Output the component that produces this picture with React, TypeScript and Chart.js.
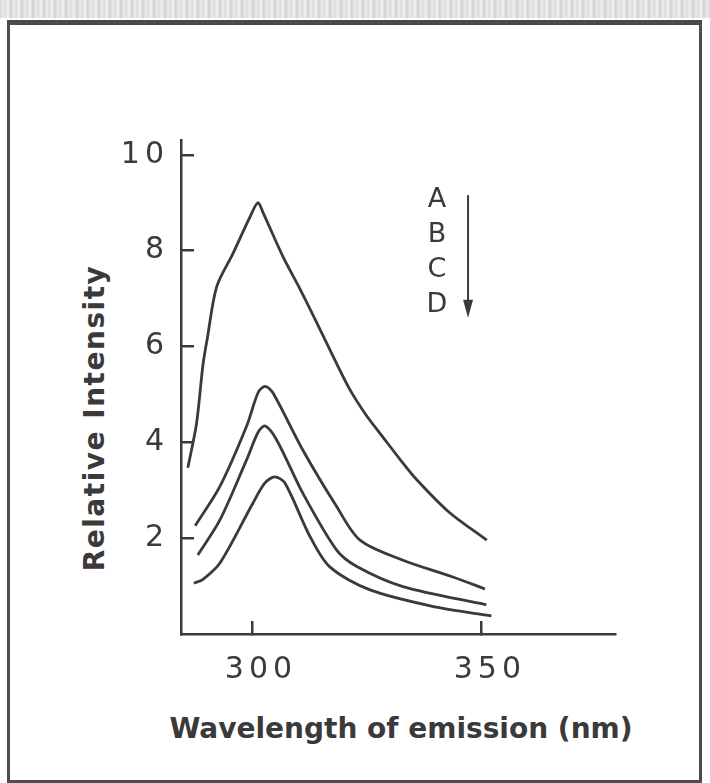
import React, { useEffect, useRef } from "react";
import { Chart, registerables } from "chart.js";

Chart.register(...registerables);

// Wavelength (nm) / relative intensity
const aX = [286.0, 287.9, 289.3, 290.3, 292.3, 295.9, 299.6, 301.3, 302.4, 306.8, 310.5, 314.2, 317.7, 321.4, 325.0, 328.6, 332.3, 336.0, 343.2, 351.3];
const aY = [3.47, 4.40, 5.62, 6.2, 7.25, 7.95, 8.71, 9.0, 8.8, 7.87, 7.2, 6.49, 5.8, 5.1, 4.56, 4.11, 3.65, 3.22, 2.53, 1.96];

const bX = [287.6, 293.0, 298.8, 301.4, 302.9, 304.6, 311.1, 318.5, 323.6, 333.0, 343.9, 350.9];
const bY = [2.26, 3.08, 4.33, 5.05, 5.17, 5.03, 3.84, 2.66, 1.96, 1.54, 1.19, 0.94];

const cX = [288.2, 293.0, 298.8, 301.4, 302.9, 305.4, 311.1, 318.5, 322.9, 333.0, 351.2];
const cY = [1.65, 2.38, 3.63, 4.22, 4.34, 4.05, 2.94, 1.75, 1.41, 0.99, 0.61];

const dX = [287.3, 289.3, 293.0, 300.2, 302.8, 305.0, 307.2, 312.7, 317.0, 325.8, 340.3, 352.3];
const dY = [1.06, 1.14, 1.48, 2.73, 3.15, 3.28, 3.15, 2.03, 1.40, 0.92, 0.56, 0.38];

const xTicks = [300, 350];
const yTicks = [2, 4, 6, 8, 10];
const seriesLabels = ["A", "B", "C", "D"];

const INK = "#3a3a3a";
const TICK_FONT = { family: "DejaVu Sans", size: 30, weight: "normal" as const };

const toPts = (xs: number[], ys: number[]) => xs.map((x, i) => ({ x, y: ys[i] }));

const labelSpacingPlugin = {
  id: "labelSpacing",
  beforeDraw(chart: any) {
    const ctx = chart.ctx;
    Object.values(chart.scales).forEach((scale: any) => {
      if (scale.__spaced) return;
      scale.__spaced = true;
      const orig = scale.drawLabels.bind(scale);
      scale.drawLabels = (ca: any) => {
        ctx.save();
        try {
          (ctx as any).letterSpacing = "5px";
        } catch (e) {}
        orig(ca);
        ctx.restore();
      };
    });
  },
};

const annotationPlugin = {
  id: "seriesOrder",
  afterDatasetsDraw(chart: any) {
    const { ctx, scales } = chart;
    const xs = scales.x;
    const ys = scales.y;
    ctx.save();
    ctx.fillStyle = INK;
    ctx.strokeStyle = INK;
    ctx.font = '27px "DejaVu Sans"';
    ctx.textAlign = "center";
    ctx.textBaseline = "middle";
    const lx = xs.getPixelForValue(340.4);
    const lv = [9.06, 8.33, 7.6, 6.87];
    seriesLabels.forEach((t, i) => ctx.fillText(t, lx, ys.getPixelForValue(lv[i])));
    const ax = xs.getPixelForValue(347.2);
    const top = ys.getPixelForValue(9.16);
    const bot = ys.getPixelForValue(6.6);
    ctx.lineWidth = 2;
    ctx.beginPath();
    ctx.moveTo(ax, top);
    ctx.lineTo(ax, bot - 14);
    ctx.stroke();
    ctx.beginPath();
    ctx.moveTo(ax - 5, bot - 18);
    ctx.lineTo(ax + 5, bot - 18);
    ctx.lineTo(ax, bot);
    ctx.closePath();
    ctx.fill();
    ctx.restore();
  },
};

export default function App() {
  const ref = useRef<HTMLCanvasElement | null>(null);

  useEffect(() => {
    if (!ref.current) return;
    const mk = (label: string, xs: number[], ys: number[]) => ({
      label,
      data: toPts(xs, ys),
      borderColor: INK,
      borderWidth: 2.8,
      pointRadius: 0,
      fill: false,
      tension: 0.3,
    });
    const chart = new Chart(ref.current, {
      type: "line",
      data: {
        datasets: [mk("A", aX, aY), mk("B", bX, bY), mk("C", cX, cY), mk("D", dX, dY)],
      },
      options: {
        animation: false,
        responsive: false,
        devicePixelRatio: 1,
        layout: { padding: { top: 140, right: 95, bottom: 0, left: 0 } },
        plugins: { legend: { display: false }, tooltip: { enabled: false } },
        scales: {
          x: {
            type: "linear",
            min: 284.5,
            max: 379.3,
            afterFit: (s: any) => {
              s.height = 149;
            },
            afterBuildTicks: (s: any) => {
              s.ticks = xTicks.map((v) => ({ value: v }));
            },
            grid: { drawOnChartArea: false, tickLength: -13, color: INK, lineWidth: 2.5 },
            border: { color: INK, width: 2.5 },
            ticks: {
              padding: 31,
              labelOffset: 9,
              color: INK,
              font: TICK_FONT,
              maxRotation: 0,
              autoSkip: false,
              callback: (v: any) => String(v),
            },
          },
          y: {
            type: "linear",
            min: 0,
            max: 10.31,
            afterFit: (s: any) => {
              s.width = 181;
            },
            afterBuildTicks: (s: any) => {
              s.ticks = yTicks.map((v) => ({ value: v }));
            },
            grid: { drawOnChartArea: false, tickLength: -13, color: INK, lineWidth: 2.5 },
            border: { color: INK, width: 2.5 },
            ticks: {
              padding: 25,
              color: INK,
              font: TICK_FONT,
              autoSkip: false,
              callback: (v: any) => String(v),
            },
          },
        },
      },
      plugins: [labelSpacingPlugin, annotationPlugin],
    });
    return () => chart.destroy();
  }, []);

  return (
    <div style={{ position: "absolute", left: 0, top: 0, width: 710, height: 783, background: "#fff", overflow: "hidden" }}>
      <div
        style={{
          position: "absolute",
          left: 0,
          top: 0,
          width: 710,
          height: 18,
          background:
            "repeating-linear-gradient(90deg, #d2d2d2 0px, #ececec 3px, #dadada 5px, #f2f2f2 8px, #cfcfcf 11px)",
        }}
      />
      <div
        style={{
          position: "absolute",
          left: 7,
          top: 20,
          width: 695,
          height: 763,
          boxSizing: "border-box",
          border: "3px solid #4d4d4d",
          borderTop: "5px solid #4a4a4a",
        }}
      />
      <div
        style={{
          position: "absolute",
          left: 94,
          top: 418,
          transform: "translate(-50%, -50%) rotate(-90deg)",
          whiteSpace: "nowrap",
          font: 'bold 28px "DejaVu Sans"',
          letterSpacing: "1.5px",
          color: INK,
        }}
      >
        Relative Intensity
      </div>
      <div
        style={{
          position: "absolute",
          left: 401,
          top: 728,
          transform: "translate(-50%, -50%)",
          whiteSpace: "nowrap",
          font: 'bold 28px "DejaVu Sans"',
          color: INK,
        }}
      >
        Wavelength of emission (nm)
      </div>
      <canvas ref={ref} width={710} height={783} style={{ position: "absolute", left: 0, top: 0, width: 710, height: 783 }} />
    </div>
  );
}
